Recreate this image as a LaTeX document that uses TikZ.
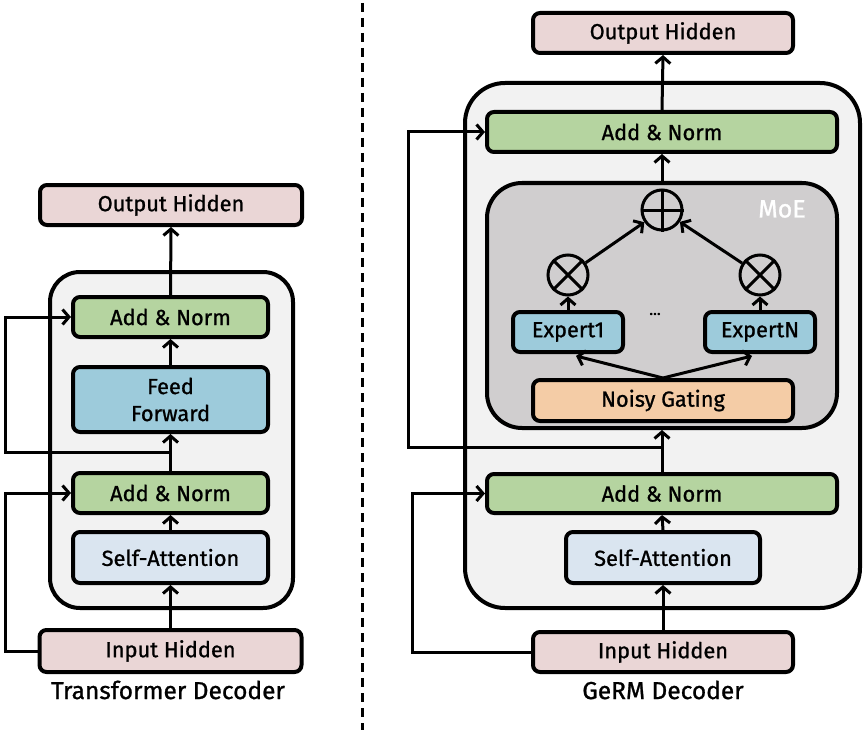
\documentclass[tikz,border=0pt]{standalone}
\usepackage{fontspec}
\setmainfont{Fira Sans}[BoldFont={Fira Sans},BoldFeatures={FakeBold=1.0}]
\usetikzlibrary{arrows.meta,calc}
\definecolor{pinkc}{HTML}{EAD6D6}
\definecolor{greenc}{HTML}{B5D4A0}
\definecolor{bluec}{HTML}{9DCBDB}
\definecolor{lbluec}{HTML}{DAE5F0}
\definecolor{peachc}{HTML}{F4CCA6}
\definecolor{outerc}{HTML}{F2F2F2}
\definecolor{moec}{HTML}{D0CECF}
\tikzset{
  blk/.style={draw=black, line width=4pt, rounded corners=7pt, inner sep=0pt, font=\fontsize{21.8}{27}\selectfont\bfseries, align=center},
  cont/.style={draw=black, line width=4pt, inner sep=0pt},
  arr/.style={line width=3pt, -{Straight Barb[length=6.5pt,width=15pt]}},
  opc/.style={circle, draw=black, line width=3pt, minimum size=40pt, inner sep=0pt},
  lbl/.style={font=\fontsize{24.5}{26}\selectfont\bfseries},
}
\begin{document}
\begin{tikzpicture}[x=1pt,y=-1pt]
\useasboundingbox[fill=white] (0,0) rectangle (865,733);
% divider
\draw[line width=3pt, dash pattern=on 9pt off 6pt] (362,3) -- (362,730);

% ===== Left: Transformer Decoder =====
\node[cont, fill=outerc, rounded corners=30pt, minimum width=243pt, minimum height=336pt] (lcont) at (171.5,440) {};
\node[blk, fill=pinkc, minimum width=262pt, minimum height=40pt] (lout) at (171,205) {Output Hidden};
\node[blk, fill=greenc, minimum width=195pt, minimum height=40pt] (lan2) at (170.5,317) {Add \& Norm};
\node[blk, fill=bluec, minimum width=195pt, minimum height=65pt] (lff) at (170.5,399.5) {Feed\\Forward};
\node[blk, fill=greenc, minimum width=195pt, minimum height=40pt] (lan1) at (170.5,493) {Add \& Norm};
\node[blk, fill=lbluec, minimum width=195pt, minimum height=51pt] (lsa) at (170.5,557.5) {Self-Attention};
\node[blk, fill=pinkc, minimum width=262pt, minimum height=42pt] (lin) at (170.5,651) {Input Hidden};
\node[lbl] (llab) at (168,690) {Transformer Decoder};

\draw[arr] (lin.north) -- (lsa.south);
\draw[arr] (lsa.north) -- (lan1.south);
\draw[arr] (lan1.north) -- (lff.south);
\draw[arr] (lff.north) -- (lan2.south);
\draw[arr] (lan2.north) -- (lout.south);
\coordinate (ltap) at (170.5,452);
\coordinate (lk1) at (5,452);
\coordinate (lk2) at (5,651);
\draw[arr] (ltap) -- (lk1) |- (lan2.west);
\draw[arr] (lin.west) -- (lk2) |- (lan1.west);

% ===== Right: GeRM Decoder =====
\node[cont, fill=outerc, rounded corners=40pt, minimum width=395pt, minimum height=525pt] (rcont) at (662.5,345.5) {};
\node[blk, fill=pinkc, minimum width=260pt, minimum height=40pt] (rout) at (663,33) {Output Hidden};
\node[blk, fill=greenc, minimum width=350pt, minimum height=40pt] (ran2) at (662,132) {Add \& Norm};
\node[cont, fill=moec, rounded corners=35pt, minimum width=350pt, minimum height=245pt] (moe) at (662,305.5) {};
\node[text=white, font=\fontsize{25}{26}\selectfont\bfseries] (moelab) at (782,209) {MoE};
\node[opc] (op) at (662,210) {};
\draw[line width=3pt] (op.north) -- (op.south) (op.west) -- (op.east);
\node[opc] (oL) at (568,275) {};
\draw[line width=3pt] (oL.north east) -- (oL.south west) (oL.north west) -- (oL.south east);
\node[opc] (oR) at (760,275) {};
\draw[line width=3pt] (oR.north east) -- (oR.south west) (oR.north west) -- (oR.south east);
\node[blk, fill=bluec, minimum width=110pt, minimum height=40pt] (e1) at (568,332) {Expert1};
\node[blk, fill=bluec, minimum width=110pt, minimum height=40pt] (eN) at (760,332) {ExpertN};
\node[font=\fontsize{16}{16}\selectfont\bfseries] (dots) at (655,314) {...};
\node[blk, fill=peachc, minimum width=260pt, minimum height=41pt] (ng) at (663,400.5) {Noisy Gating};
\node[blk, fill=greenc, minimum width=350pt, minimum height=39pt] (ran1) at (662,493.5) {Add \& Norm};
\node[blk, fill=lbluec, minimum width=194pt, minimum height=51pt] (rsa) at (663,557.5) {Self-Attention};
\node[blk, fill=pinkc, minimum width=260pt, minimum height=40pt] (rin) at (663,652) {Input Hidden};
\node[lbl] (rlab) at (663,690) {GeRM Decoder};

\draw[arr] (rin.north) -- (rsa.south);
\draw[arr] (rsa.north) -- (ran1.south);
\draw[arr] (ran1.north) -- (moe.south);
\draw[arr] (ng.north) -- ($(e1.south)+(8,2)$);
\draw[arr] (ng.north) -- ($(eN.south)+(-8,2)$);
\draw[arr] (e1.north) -- (oL.south);
\draw[arr] (eN.north) -- (oR.south);
\draw[arr] (oL) -- (op);
\draw[arr] (oR) -- (op);
\draw[arr] (moe.north) -- (ran2.south);
\draw[arr] (ran2.north) -- (rout.south);
\coordinate (rtap) at (662,447);
\coordinate (rk1) at (408,447);
\coordinate (rk2) at (412,652);
\draw[arr] (rtap) -- (rk1) |- (ran2.west);
\draw[arr] (rin.west) -- (rk2) |- (ran1.west);
\end{tikzpicture}
\end{document}
